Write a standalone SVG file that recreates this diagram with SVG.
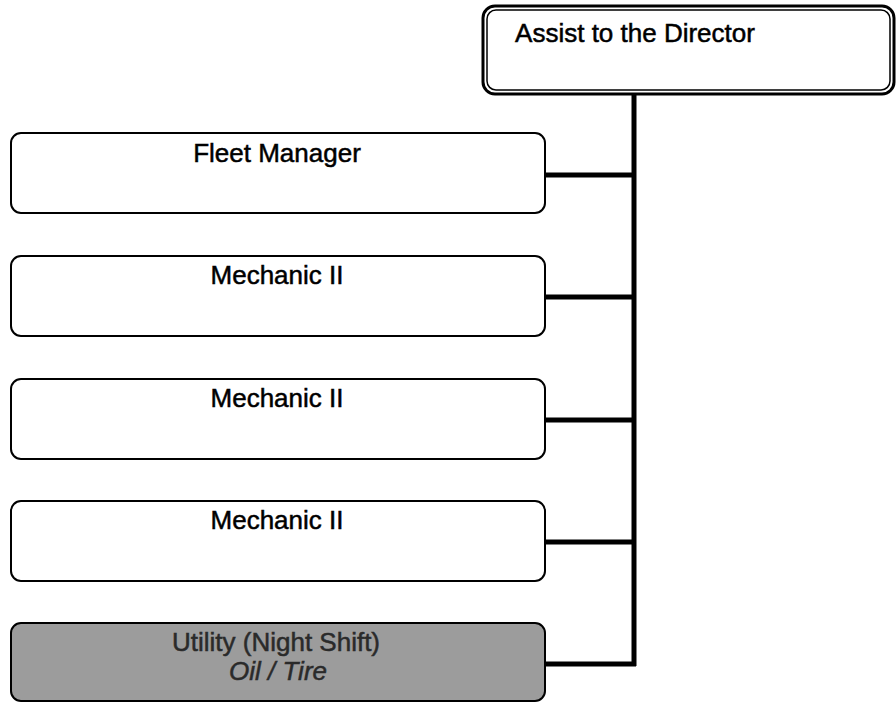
<svg xmlns="http://www.w3.org/2000/svg" width="896" height="703" viewBox="0 0 896 703">
<style>
.box{fill:#fff;stroke:#000;stroke-width:2}
.t{font-family:"Liberation Sans",Arial,sans-serif;font-size:26px;fill:#000;stroke:#000;stroke-width:0.5;text-anchor:middle}
.con{stroke:#000;stroke-width:5;fill:none}
</style>
<rect width="896" height="703" fill="#fff"/>
<g id="connectors">
<line class="con" x1="634" y1="94" x2="634" y2="666"/>
<line class="con" x1="545" y1="175" x2="636" y2="175"/>
<line class="con" x1="545" y1="297" x2="636" y2="297"/>
<line class="con" x1="545" y1="420" x2="636" y2="420"/>
<line class="con" x1="545" y1="542" x2="636" y2="542"/>
<line class="con" x1="545" y1="664" x2="636" y2="664"/>
</g>
<g id="director">
<rect x="483" y="6" width="411" height="88" rx="12" fill="#fff" stroke="#000" stroke-width="3"/>
<rect x="487" y="10" width="403" height="80" rx="9" fill="none" stroke="#000" stroke-width="1.5"/>
<text class="t" x="635" y="42">Assist to the Director</text>
</g>
<g id="fleet">
<rect class="box" x="11" y="133" width="534" height="80" rx="10"/>
<text class="t" x="277" y="162">Fleet Manager</text>
</g>
<g id="mech1">
<rect class="box" x="11" y="256" width="534" height="80" rx="10"/>
<text class="t" x="277" y="284">Mechanic II</text>
</g>
<g id="mech2">
<rect class="box" x="11" y="379" width="534" height="80" rx="10"/>
<text class="t" x="277" y="407">Mechanic II</text>
</g>
<g id="mech3">
<rect class="box" x="11" y="501" width="534" height="80" rx="10"/>
<text class="t" x="277" y="529">Mechanic II</text>
</g>
<g id="utility">
<rect x="11" y="623" width="534" height="78" rx="10" fill="#9c9c9c" stroke="#000" stroke-width="2"/>
<text class="t" x="276" y="651" style="fill:#2a2a2a;stroke:#2a2a2a">Utility (Night Shift)</text>
<text class="t" x="278" y="680" style="fill:#2a2a2a;stroke:#2a2a2a;font-style:italic">Oil / Tire</text>
</g>
</svg>
